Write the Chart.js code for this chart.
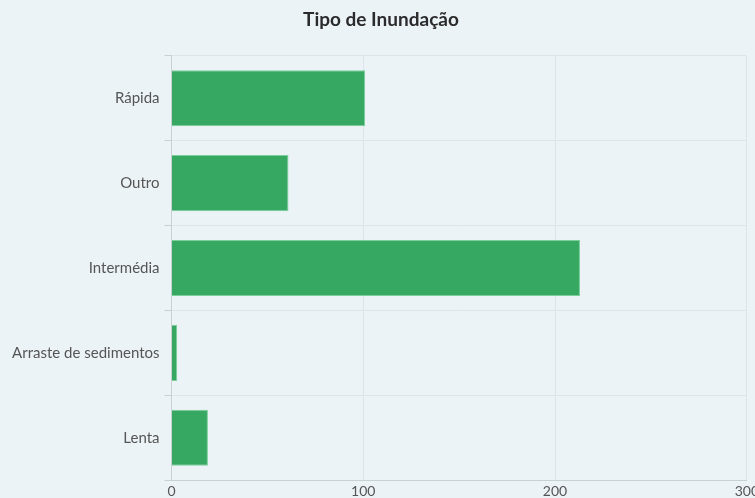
<!DOCTYPE html>
<html>
<head>
<meta charset="utf-8">
<script src="https://cdn.jsdelivr.net/npm/chart.js@4"></script>
<style>
html,body{margin:0;padding:0;background:#ecf3f7;overflow:hidden;width:755px;height:498px;}
#wrap{position:absolute;left:0;top:0;width:762px;height:503px;}
</style>
</head>
<body>
<div id="wrap"><canvas id="c"></canvas></div>
<script>
const categories = ["Rápida", "Outro", "Intermédia", "Arraste de sedimentos", "Lenta"];
const values = [101, 61, 213, 3, 19];
const xTicks = [0, 100, 200, 300];
const chartTitle = "Tipo de Inundação";

new Chart(document.getElementById('c'), {
  type: 'bar',
  data: {
    labels: categories,
    datasets: [{
      data: values,
      backgroundColor: '#37a862',
      borderColor: '#7ccf9b',
      borderWidth: 1,
      categoryPercentage: 1,
      barPercentage: 0.66
    }]
  },
  options: {
    indexAxis: 'y',
    responsive: true,
    maintainAspectRatio: false,
    animation: false,
    layout: {padding: {left: 0, right: 0, top: 0, bottom: 0}},
    plugins: {
      legend: {display: false},
      tooltip: {enabled: false},
      title: {
        display: true,
        text: chartTitle,
        color: '#2b2b2b',
        font: {family: 'Lato', size: 19, weight: 'bold'},
        padding: {top: 8, bottom: 25}
      }
    },
    scales: {
      x: {
        min: xTicks[0],
        max: xTicks[xTicks.length - 1],
        afterBuildTicks: (s) => { s.ticks = xTicks.map(v => ({value: v})); },
        grid: {color: '#dde5ea', drawTicks: false},
        border: {color: '#c9d0d4'},
        ticks: {color: '#555', font: {family: 'Lato', size: 14}, padding: 3, maxRotation: 0}
      },
      y: {
        afterFit: (s) => { s.width = 171.5; },
        grid: {color: '#dde5ea', tickLength: 7, tickColor: '#c9d0d4'},
        border: {color: '#c9d0d4'},
        ticks: {color: '#555', font: {family: 'Lato', size: 15}, padding: 5}
      }
    }
  }
});
</script>
</body>
</html>
